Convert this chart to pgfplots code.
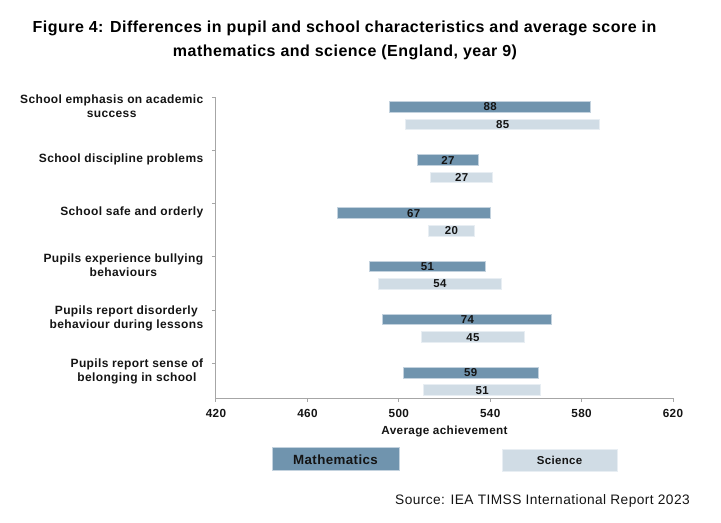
\documentclass[border=0pt]{standalone}
\usepackage{fontspec}
\setmainfont{Liberation Sans}[LetterSpace=3]
\usepackage{pgfplots}
\usepackage{pgfplotstable}
\pgfplotsset{compat=1.18}
\definecolor{mathc}{HTML}{7094AE}
\definecolor{mathedge}{HTML}{C3D2DE}
\definecolor{scic}{HTML}{D0DCE5}
\definecolor{sciedge}{HTML}{E8EEF3}
\definecolor{axisgray}{HTML}{A6A6A6}
\definecolor{txt}{HTML}{141414}

% Mathematics: low / high of the range, printed difference
\pgfplotstableread{
y      lo   hi   lab
-0.18  496  584  88
-1.18  508  535  27
-2.18  473  540  67
-3.18  487  538  51
-4.18  493  567  74
-5.18  502  561  59
}\mathdata
% Science
\pgfplotstableread{
y      lo   hi   lab
-0.51  503  588  85
-1.51  514  541  27
-2.51  513  533  20
-3.51  491  545  54
-4.51  510  555  45
-5.51  511  562  51
}\scidata

\pgfplotsset{
  common/.style={
    at={(162pt,93.525pt)}, anchor=south west,
    scale only axis, width=342.75pt, height=225.75pt,
    xmin=420, xmax=620, ymin=-5.66, ymax=0,
  },
}
\begin{document}
\begin{tikzpicture}[x=0.75pt,y=0.75pt]
\path[use as bounding box] (0,0) rectangle (721,523);

\node[font=\bfseries\fontsize{12}{14}\selectfont, text=black] at (344.5,494.7) {Figure 4: Differences in pupil and school characteristics and average score in};
\node[font=\bfseries\fontsize{12}{14}\selectfont, text=black] at (345,470.7) {mathematics and science (England, year 9)};

\begin{axis}[common,
  axis x line*=bottom, axis y line*=left,
  axis line style={draw=axisgray, line width=0.75pt, -},
  tick align=outside,
  major tick length=2.5pt, minor tick length=3pt,
  xtick={420,460,...,620},
  major x tick style={draw=axisgray, line width=0.75pt},
  ytick={-5.16,-4.16,-3.16,-2.16,-1.16,-0.16},
  yticklabels={{Pupils report sense of\\belonging in school},
               {Pupils report disorderly\\behaviour during lessons},
               {Pupils experience bullying\\behaviours},
               {School safe and orderly},
               {School discipline problems},
               {School emphasis on academic\\success}},
  major y tick style={draw=none},
  minor ytick={-5,-4,-3,-2,-1,0},
  minor y tick style={draw=axisgray, line width=0.75pt},
  /pgf/number format/assume math mode=true,
  x tick label style={font=\bfseries\fontsize{8.8}{10}\selectfont, text=txt, anchor=base, inner sep=0pt, yshift=-11.75pt},
  y tick label style={font=\bfseries\fontsize{9}{10.5}\selectfont, align=center, text=txt, inner sep=0pt, xshift=-6.9pt},
  xlabel={Average achievement},
  xlabel style={font=\bfseries\fontsize{8.8}{11}\selectfont, text=txt, at={(axis description cs:0.5,0)}, anchor=base, inner sep=0pt, yshift=-27.5pt},
  xbar stacked, bar width=0.2,
]
\addplot[draw=none, fill=none] table[x=lo, y=y] {\mathdata};
\addplot[fill=mathc, draw=mathedge, line width=0.75pt] table[x expr=\thisrow{hi}-\thisrow{lo}, y=y] {\mathdata};
\end{axis}

\begin{axis}[common, hide axis, xbar stacked, bar width=0.2]
\addplot[draw=none, fill=none] table[x=lo, y=y] {\scidata};
\addplot[fill=scic, draw=sciedge, line width=0.75pt] table[x expr=\thisrow{hi}-\thisrow{lo}, y=y] {\scidata};
\end{axis}

\begin{axis}[common, hide axis, xbar, bar width=0.1, bar shift=0pt,
  nodes near coords, point meta=explicit symbolic,
  nodes near coords style={anchor=center, inner sep=0pt, font=\bfseries\fontsize{8.6}{10}\selectfont, text=txt},
]
\addplot[draw=none, fill=none, bar shift=0pt] table[x expr=(\thisrow{lo}+\thisrow{hi})/2, y=y, meta=lab] {\mathdata};
\addplot[draw=none, fill=none, bar shift=0pt] table[x expr=(\thisrow{lo}+\thisrow{hi})/2, y=y, meta=lab] {\scidata};
\end{axis}

% legend
\draw[fill=mathc, draw=mathedge, line width=0.75pt] (272,75) rectangle (399,52);
\node[font=\bfseries\fontsize{10}{12}\selectfont, text=txt] at (335.5,63.5) {Mathematics};
\draw[fill=scic, draw=sciedge, line width=0.75pt] (502,73) rectangle (617,51);
\node[font=\bfseries\fontsize{8.6}{10}\selectfont, text=txt] at (559.5,62.5) {Science};

\node[font=\fontsize{10.3}{12}\selectfont, text=txt, anchor=east, inner sep=0pt] at (690,22) {Source: IEA TIMSS International Report 2023};
\end{tikzpicture}
\end{document}
